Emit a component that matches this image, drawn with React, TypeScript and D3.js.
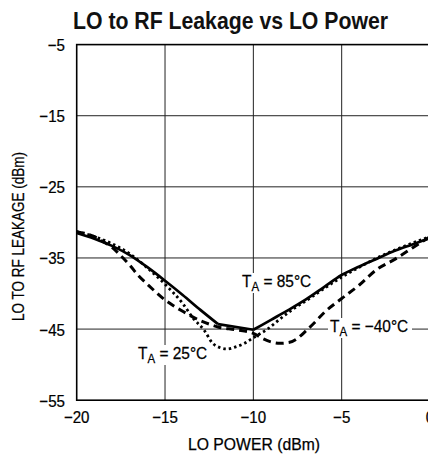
import React from "react";
import * as d3 from "d3";

const W = 428;
const H = 459;

const title = "LO to RF Leakage vs LO Power";
const xTicks = [-20, -15, -10, -5, 0];
const yTicks = [-5, -15, -25, -35, -45, -55];
const xLabel = "LO POWER (dBm)";
const yLabel = "LO TO RF LEAKAGE (dBm)";

// T_A = 85°C (solid)
const solidX = [-20, -19, -18, -17, -16, -15, -14, -13, -12, -10, -9, -8, -7, -6, -5, -4, -3, -2, -1, 0];
const solidY = [-31.5, -32.3, -33.3, -34.6, -36.3, -38.2, -40.2, -42.3, -44.3, -45.1, -43.7, -42.3, -40.8, -39.1, -37.4, -36.2, -35.1, -34.0, -33.1, -32.2];

// T_A = 25°C (dotted)
const dotX = [-20, -19, -18, -17, -16, -15, -14, -13.4, -12.8, -12.3, -11.9, -11.5, -11, -10.5, -10, -9.2, -8.5, -7.7, -7, -6, -5, -4, -3, -2, -1, 0];
const dotY = [-31.3, -32.0, -33.0, -34.4, -36.4, -38.7, -41.4, -43.5, -45.1, -47.0, -47.6, -47.8, -47.5, -47.0, -46.2, -45.0, -43.6, -42.1, -41.0, -39.3, -37.7, -36.3, -35.0, -33.9, -32.9, -32.0];

// T_A = -40°C (dashed)
const dashX = [-20, -19, -18.5, -18, -17.5, -17, -16.5, -16, -15, -14, -13, -12, -11, -10, -9.5, -9, -8.5, -8, -7.5, -7, -6.5, -6, -5, -4, -3, -2, -1, 0];
const dashY = [-31.3, -32.0, -32.7, -33.5, -34.7, -36.0, -37.5, -38.7, -40.9, -42.5, -43.8, -44.7, -45.1, -45.6, -46.3, -46.8, -47.0, -46.9, -46.3, -45.2, -44.0, -42.7, -40.7, -38.8, -36.6, -35.2, -33.6, -32.0];

const FONT = "'Liberation Sans', Arial, sans-serif";

export default function App() {
  const left = 76.7;
  const right = 430;
  const top = 44.6;
  const bottom = 400.2;
  const x = d3.scaleLinear().domain([-20, 0]).range([left, right]);
  const y = d3.scaleLinear().domain([-55, -5]).range([bottom, top]);

  const line = d3
    .line<[number, number]>()
    .x((d) => x(d[0]))
    .y((d) => y(d[1]))
    .curve(d3.curveMonotoneX);
  const lineLin = d3
    .line<[number, number]>()
    .x((d) => x(d[0]))
    .y((d) => y(d[1]))
    .curve(d3.curveLinear);

  const zip = (a: number[], b: number[]) => a.map((v, i) => [v, b[i]] as [number, number]);
  const solidPts = zip(solidX, solidY);
  const solidA = solidPts.slice(0, 9);
  const solidB = solidPts.slice(8, 10);
  const solidC = solidPts.slice(9);

  const SX = 0.9;
  const fmt = (t: number) => (t < 0 ? "−" + Math.abs(t) : String(t));
  const txt = { fontFamily: FONT, fill: "#000", stroke: "#000", strokeWidth: 0.25 } as const;

  const TempLabel = ({ lx, ly, temp, bw }: { lx: number; ly: number; temp: string; bw: number }) => (
    <g>
      <rect x={lx - 2} y={ly - 14} width={bw} height={20} fill="#fff" />
      <g transform={`translate(${lx},${ly}) scale(0.92,1)`}>
        <text x={0} y={0} style={{ ...txt, fontSize: 16.8 }}>
          T<tspan fontSize={12.5} dy={4}>A</tspan>
          <tspan dy={-4}>{` = ${temp}°C`}</tspan>
        </text>
      </g>
    </g>
  );

  return (
    <svg width={W} height={H} style={{ position: "absolute", left: 0, top: 0, background: "#fff" }}>
      <rect width={W} height={H} fill="#fff" />
      <text
        x={73}
        y={29}
        textLength={315}
        lengthAdjust="spacingAndGlyphs"
        style={{ fontFamily: FONT, fontSize: 23.8, fontWeight: "bold", fill: "#111" }}
      >
        {title}
      </text>
      {/* grid */}
      {xTicks.slice(1, -1).map((t) => (
        <line key={"gx" + t} x1={x(t)} x2={x(t)} y1={top} y2={bottom} stroke="#222" strokeWidth={1} />
      ))}
      {yTicks.slice(1, -1).map((t) => (
        <line key={"gy" + t} x1={left} x2={right} y1={y(t)} y2={y(t)} stroke="#222" strokeWidth={1} />
      ))}
      {/* labels with white bg */}
      <TempLabel lx={242} ly={287} temp="85" bw={72} />
      <TempLabel lx={330} ly={332} temp="−40" bw={84} />
      <TempLabel lx={138} ly={359} temp="25" bw={72} />
      {/* curves */}
      <path d={line(solidA) || ""} fill="none" stroke="#000" strokeWidth={2.7} />
      <path d={lineLin(solidB) || ""} fill="none" stroke="#000" strokeWidth={2.7} />
      <path d={line(solidC) || ""} fill="none" stroke="#000" strokeWidth={2.7} />
      <path d={line(zip(dotX, dotY)) || ""} fill="none" stroke="#000" strokeWidth={2.8} strokeDasharray="2.5 3" />
      <path d={line(zip(dashX, dashY)) || ""} fill="none" stroke="#000" strokeWidth={3} strokeDasharray="8 5" />
      {/* frame */}
      <rect x={left} y={top} width={right - left} height={bottom - top} fill="none" stroke="#000" strokeWidth={1.6} />
      {/* ticks */}
      {yTicks.map((t) => (
        <g key={"ty" + t} transform={`translate(65,${y(t) + 6.5}) scale(${SX},1)`}>
          <text x={0} y={0} textAnchor="end" style={{ ...txt, fontSize: 16.8 }}>
            {fmt(t)}
          </text>
        </g>
      ))}
      {xTicks.map((t) => (
        <g key={"tx" + t} transform={`translate(${x(t)},423) scale(${SX},1)`}>
          <text x={0} y={0} textAnchor="middle" style={{ ...txt, fontSize: 16.8 }}>
            {fmt(t)}
          </text>
        </g>
      ))}
      <text
        x={188}
        y={450}
        textLength={132}
        lengthAdjust="spacingAndGlyphs"
        style={{ ...txt, fontSize: 16.3 }}
      >
        {xLabel}
      </text>
      <g transform={`translate(24, 321) rotate(-90)`}>
        <text
          x={0}
          y={0}
          textLength={169}
          lengthAdjust="spacingAndGlyphs"
          style={{ ...txt, fontSize: 15.8 }}
        >
          {yLabel}
        </text>
      </g>
    </svg>
  );
}
